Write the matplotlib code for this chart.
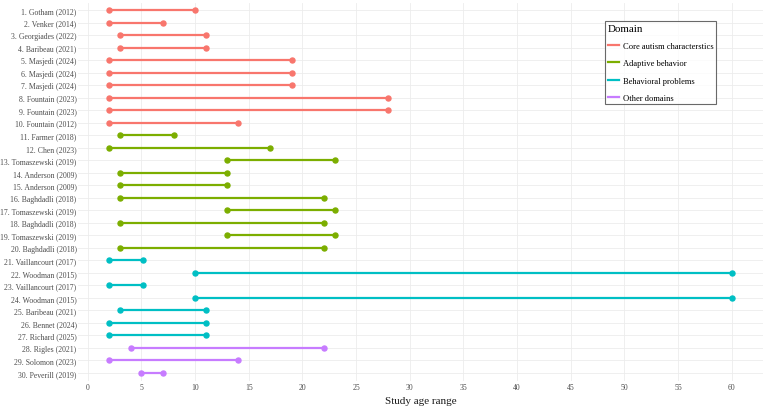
import matplotlib
matplotlib.use("Agg")
import matplotlib.pyplot as plt
from matplotlib.lines import Line2D

labels = ["1. Gotham (2012)", "2. Venker (2014)", "3. Georgiades (2022)", "4. Baribeau (2021)",
          "5. Masjedi (2024)", "6. Masjedi (2024)", "7. Masjedi (2024)", "8. Fountain (2023)",
          "9. Fountain (2023)", "10. Fountain (2012)", "11. Farmer (2018)", "12. Chen (2023)",
          "13. Tomaszewski (2019)", "14. Anderson (2009)", "15. Anderson (2009)",
          "16. Baghdadli (2018)", "17. Tomaszewski (2019)", "18. Baghdadli (2018)",
          "19. Tomaszewski (2019)", "20. Baghdadli (2018)", "21. Vaillancourt (2017)",
          "22. Woodman (2015)", "23. Vaillancourt (2017)", "24. Woodman (2015)",
          "25. Baribeau (2021)", "26. Bennet (2024)", "27. Richard (2025)",
          "28. Rigles (2021)", "29. Solomon (2023)", "30. Peverill (2019)"]
age_min = [2, 2, 3, 3, 2, 2, 2, 2, 2, 2, 3, 2, 13, 3, 3, 3, 13, 3, 13, 3,
           2, 10, 2, 10, 3, 2, 2, 4, 2, 5]
age_max = [10, 7, 11, 11, 19, 19, 19, 28, 28, 14, 8, 17, 23, 13, 13, 22, 23, 22, 23, 22,
           5.2, 60, 5.2, 60, 11, 11, 11, 22, 14, 7]
domain = ["Core autism characteristics"] * 10 + ["Adaptive behavior"] * 10 + \
         ["Behavioral problems"] * 7 + ["Other domains"] * 3
domains = ["Core autism characteristics", "Adaptive behavior", "Behavioral problems", "Other domains"]
legend_labels = ["Core autism characterstics", "Adaptive behavior", "Behavioral problems", "Other domains"]
colors = {"Core autism characteristics": "#F8766D", "Adaptive behavior": "#7CAE00",
          "Behavioral problems": "#00BFC4", "Other domains": "#C77CFF"}
xticks = [0, 5, 10, 15, 20, 25, 30, 35, 40, 45, 50, 55, 60]

plt.rcParams['font.family'] = ['Liberation Serif', 'DejaVu Serif']

fig = plt.figure(figsize=(7.66, 4.10), dpi=100)
ax = fig.add_axes([78/766, 1 - 381.5/410, (763-78)/766, (381.5-3.5)/410])

n = len(labels)
ys = list(range(1, n + 1))
for y, lo, hi, d in zip(ys, age_min, age_max, domain):
    c = colors[d]
    ax.plot([lo, hi], [y, y], color=c, lw=1.6, solid_capstyle='butt', zorder=3)
    ax.plot([lo, hi], [y, y], ls='none', marker='o', ms=3.6, color=c, zorder=4)

ax.set_xlim(-0.9, 62.9)
ax.set_ylim(n + 0.6, 0.4)
ax.set_yticks(ys)
ax.set_yticklabels(labels)
ax.set_xticks(xticks)
ax.set_xticklabels([str(t) for t in xticks])
ax.tick_params(axis='both', length=0, labelsize=5.6, labelcolor='#4d4d4d')
ax.tick_params(axis='y', pad=1.0)
ax.tick_params(axis='x', pad=2)
ax.grid(True, color='#ececec', lw=0.6, zorder=0)
ax.set_axisbelow(True)
for s in ax.spines.values():
    s.set_visible(False)
ax.set_xlabel("Study age range", fontsize=8, color='#1a1a1a', labelpad=3.5)

handles = [Line2D([0], [0], color=colors[d], lw=1.6) for d in domains]
leg = ax.legend(handles, legend_labels, title="Domain", loc='upper left',
                bbox_to_anchor=((605-78)/(763-78), 1 - (22-3.5)/378), frameon=True,
                fontsize=6.1, title_fontsize=7.9, handlelength=1.4, handletextpad=0.4,
                labelspacing=1.1, borderpad=0.3, fancybox=False, borderaxespad=0)
leg._legend_box.align = "left"
leg.get_frame().set_edgecolor('#444444')
leg.get_frame().set_linewidth(0.8)

fig.savefig("out.png", dpi=100, facecolor='white')
